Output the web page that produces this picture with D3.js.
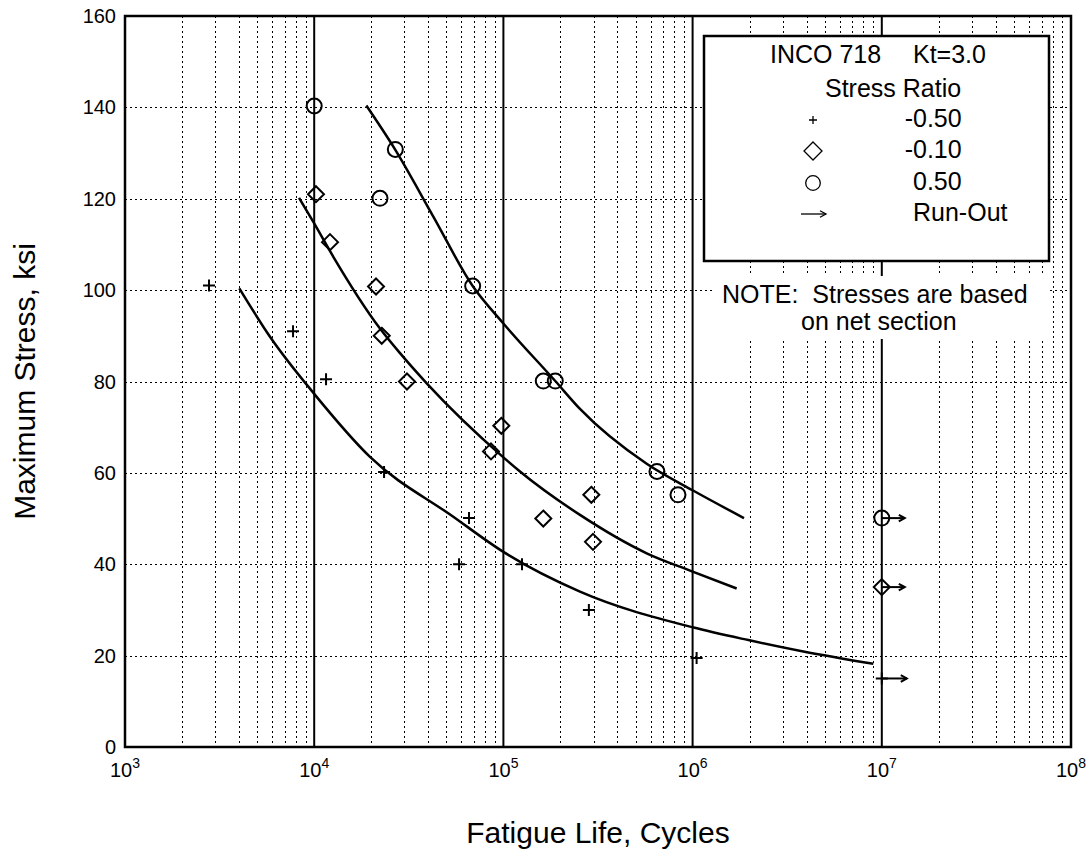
<!DOCTYPE html>
<html><head><meta charset="utf-8">
<script src="https://cdn.jsdelivr.net/npm/d3@7"></script>
<style>
html,body{margin:0;padding:0;background:#fff;}
svg{display:block;font-family:"Liberation Sans",Arial,sans-serif;}
</style></head>
<body><svg id="chart" width="1090" height="851"></svg>
<script>
// ---------------- data ----------------
const xTickExps = [3,4,5,6,7,8];
const yTicks = [0,20,40,60,80,100,120,140,160];

// R = -0.50 (plus)
const plusN = [2780,7730,11550,23400,65800,58300,125400,283000,1050000];
const plusS = [101,91,80.5,60.2,50.1,40,40,30,19.5];
// R = -0.10 (diamond)
const diaN = [10220,12120,21220,22750,30930,97500,85990,291500,162500,297600];
const diaS = [121,110.5,100.8,90,80,70.3,64.7,55.2,50,44.9];
// R = 0.50 (circle)
const cirN = [10000,26840,22270,68800,162500,188000,648000,837000];
const cirS = [140.3,130.8,120.1,100.9,80.1,80.1,60.3,55.2];

// run-outs
const runN = [10000000,10000000,10000000];
const runS = [50.1,35,15];
const runType = ["circle","diamond","plus"];

// best-fit curves
const curvePlusN = [4020,5840,10000,19720,54340,100000,254000,1000000,1970000,3850000,9020000];
const curvePlusS = [100.4,89.8,77.3,63.5,50.4,42.7,34.0,26.2,23.4,20.9,18.2];
const curveDiaN = [8315,10000,12620,22270,28420,39330,100000,122400,254000,572000,1000000,1710000];
const curveDiaS = [120.2,114.6,107.3,91.6,86.2,79.6,63.4,60.3,50.8,42.4,38.4,34.7];
const curveCirN = [18860,26840,42620,68800,100000,188000,254000,572000,1000000,1870000];
const curveCirS = [140.4,130.7,116.1,100.9,92.7,80.1,74.0,62.0,56.2,50.1];

const legendTitleA = "INCO 718";
const legendTitleB = "Kt=3.0";
const legendSub = "Stress Ratio";
const legendLabels = ["-0.50","-0.10","0.50","Run-Out"];
const legendTypes = ["plus","diamond","circle","arrow"];
const noteLines = ["NOTE:  Stresses are based","on net section"];

// ---------------- layout ----------------
const L=125, R=1071, T=16, B=747;
const svg = d3.select("#chart");
const x = d3.scaleLog().domain([1e3,1e8]).range([L,R]);
const y = d3.scaleLinear().domain([0,160]).range([B,T]);

// grid: minor vertical dotted
const minor=[];
for(let e=3;e<8;e++) for(let k=2;k<=9;k++) minor.push(k*Math.pow(10,e));
svg.append("g").selectAll("line").data(minor).join("line")
  .attr("x1",d=>Math.round(x(d))+0.5).attr("x2",d=>Math.round(x(d))+0.5)
  .attr("y1",T).attr("y2",B)
  .attr("stroke","#000").attr("stroke-width",1).attr("stroke-dasharray","2,3");
// horizontal dotted
svg.append("g").selectAll("line").data(yTicks.slice(1,-1)).join("line")
  .attr("x1",L).attr("x2",R)
  .attr("y1",d=>Math.round(y(d))+0.5).attr("y2",d=>Math.round(y(d))+0.5)
  .attr("stroke","#000").attr("stroke-width",1).attr("stroke-dasharray","2,3");
// decade solid lines
svg.append("g").selectAll("line").data(xTickExps.slice(1,-1)).join("line")
  .attr("x1",d=>x(Math.pow(10,d))).attr("x2",d=>x(Math.pow(10,d)))
  .attr("y1",T).attr("y2",B)
  .attr("stroke","#000").attr("stroke-width",2);

// frame
svg.append("rect").attr("x",L).attr("y",T).attr("width",R-L).attr("height",B-T)
  .attr("fill","none").attr("stroke","#000").attr("stroke-width",2.5);

// y tick labels
svg.append("g").selectAll("text").data(yTicks).join("text")
  .attr("x",L-9).attr("y",d=>y(d)).attr("dy","0.35em")
  .attr("text-anchor","end").attr("font-size",20).text(d=>d);

// x tick labels
const xt = svg.append("g").selectAll("text").data(xTickExps).join("text")
  .attr("x",d=>x(Math.pow(10,d))).attr("y",B+30)
  .attr("text-anchor","middle").attr("font-size",20);
xt.append("tspan").text("10");
xt.append("tspan").attr("dy",-9).attr("font-size",14).text(d=>d);

// axis titles
svg.append("text").attr("x",(L+R)/2).attr("y",843).attr("text-anchor","middle")
  .attr("font-size",30).text("Fatigue Life, Cycles");
svg.append("text").attr("transform",`translate(35,${(T+B)/2}) rotate(-90)`)
  .attr("text-anchor","middle").attr("font-size",30).text("Maximum Stress, ksi");

// curves
const line = d3.line().x(d=>x(d[0])).y(d=>y(d[1])).curve(d3.curveMonotoneX);
[[curvePlusN,curvePlusS],[curveDiaN,curveDiaS],[curveCirN,curveCirS]].forEach(([n,s])=>{
  svg.append("path").datum(n.map((v,i)=>[v,s[i]])).attr("d",line)
    .attr("fill","none").attr("stroke","#000").attr("stroke-width",2.5);
});

// marker drawing
function drawMarker(g,type,cx,cy,sz,sw){
  if(type==="plus"){
    g.append("path").attr("d",`M${cx-sz},${cy}H${cx+sz}M${cx},${cy-sz}V${cy+sz}`)
      .attr("stroke","#000").attr("stroke-width",sw).attr("fill","none");
  } else if(type==="diamond"){
    g.append("path").attr("d",`M${cx},${cy-sz}L${cx+sz},${cy}L${cx},${cy+sz}L${cx-sz},${cy}Z`)
      .attr("stroke","#000").attr("stroke-width",sw).attr("fill","none");
  } else {
    g.append("circle").attr("cx",cx).attr("cy",cy).attr("r",sz)
      .attr("stroke","#000").attr("stroke-width",sw).attr("fill","none");
  }
}
function arrow(g,x0,y0,len,sw,head){
  g.append("path").attr("d",`M${x0},${y0}H${x0+len}`).attr("stroke","#000").attr("stroke-width",sw);
  g.append("path").attr("d",`M${x0+len-head},${y0-head*0.55}L${x0+len},${y0}L${x0+len-head},${y0+head*0.55}`)
    .attr("stroke","#000").attr("stroke-width",sw).attr("fill","none");
}
const gm = svg.append("g");
plusN.forEach((n,i)=>drawMarker(gm,"plus",x(n),y(plusS[i]),6,2));
diaN.forEach((n,i)=>drawMarker(gm,"diamond",x(n),y(diaS[i]),8,2));
cirN.forEach((n,i)=>drawMarker(gm,"circle",x(n),y(cirS[i]),7.5,2));

runN.forEach((n,i)=>{
  const cx=x(n), cy=y(runS[i]);
  drawMarker(gm,runType[i],cx,cy,runType[i]==="plus"?6:(runType[i]==="diamond"?8:7.5),2);
  arrow(gm,cx,cy,runType[i]==="plus"?25:23,2,6);
});

// legend
const lg = svg.append("g");
lg.append("rect").attr("x",704).attr("y",36).attr("width",345).attr("height",225)
  .attr("fill","#fff").attr("stroke","#000").attr("stroke-width",2.5);
lg.append("text").attr("x",770).attr("y",63).attr("font-size",25).text(legendTitleA);
lg.append("text").attr("x",913).attr("y",63).attr("font-size",25).text(legendTitleB);
lg.append("text").attr("x",825).attr("y",97).attr("font-size",25).text(legendSub);
const rowY=[120,151,183,214];
const rowBase=[127,158,190,221];
legendTypes.forEach((t,i)=>{
  if(t==="arrow") arrow(lg,801,rowY[i],25,1.3,6);
  else drawMarker(lg,t,813,rowY[i],t==="plus"?4:(t==="diamond"?9:7.3),1.3);
});
legendLabels.forEach((t,i)=>{
  lg.append("text").attr("x",t[0]==="-"?904.7:913).attr("y",rowBase[i])
    .attr("font-size",25).text(t);
});
// note
const nb = svg.append("g");
nb.append("rect").attr("x",714).attr("y",276).attr("width",333).attr("height",63).attr("fill","#fff");
nb.append("text").attr("x",722).attr("y",303).attr("font-size",25)
  .style("white-space","pre").text(noteLines[0]);
nb.append("text").attr("x",801).attr("y",330).attr("font-size",25).text(noteLines[1]);
</script>
</body></html>
